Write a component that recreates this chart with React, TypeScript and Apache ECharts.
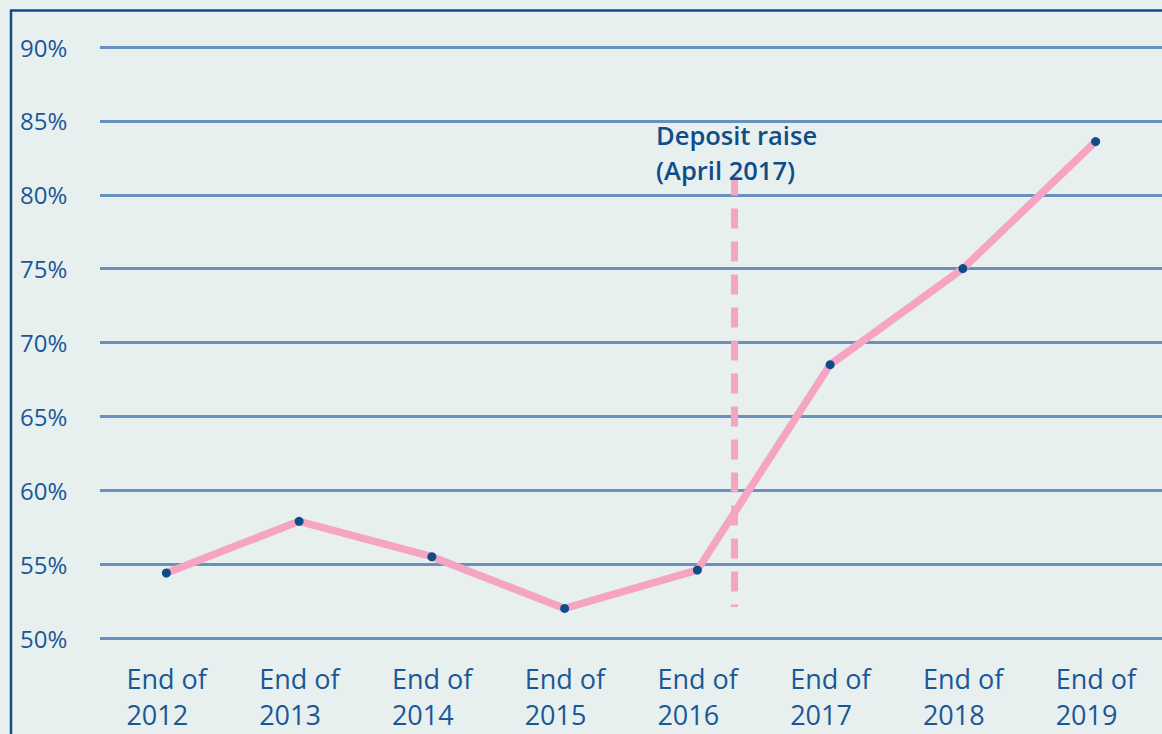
import React, { useEffect, useRef } from "react";
import * as echarts from "echarts";

const categories = ["End of\n2012", "End of\n2013", "End of\n2014", "End of\n2015", "End of\n2016", "End of\n2017", "End of\n2018", "End of\n2019"];
const shareValues = [54.4, 57.9, 55.5, 52.0, 54.6, 68.5, 75.0, 83.6];
const depositRaiseX = [4.28, 4.28];
const depositRaiseY = [81.3, 52.1];
const yTicks = { min: 50, max: 90, interval: 5 };
const annotationText = "Deposit raise\n(April 2017)";

const FONT = "'Open Sans', 'Noto Sans', sans-serif";
const TEXT = "#1b5796";
const NAVY = "#0f4c8a";
const PINK = "#f5a5c2";
const GRID = "#6892bd";
const BG = "#e7f0ef";

export default function App() {
  const ref = useRef<HTMLDivElement>(null);
  useEffect(() => {
    if (!ref.current) return;
    const chart = echarts.init(ref.current, undefined, { renderer: "svg" });
    chart.setOption({
      animation: false,
      backgroundColor: BG,
      grid: { left: 100, right: -2, top: 47, bottom: 96 },
      xAxis: [
        {
          type: "category",
          data: categories,
          boundaryGap: true,
          axisLine: { show: false },
          axisTick: { show: false },
          axisLabel: {
            color: TEXT,
            fontFamily: FONT,
            fontSize: 27,
            lineHeight: 36,
            margin: 22,
            interval: 0,
            formatter: (v: string) =>
              v
                .split("\n")
                .map((s) => `{a|${s}}`)
                .join("\n"),
            rich: {
              a: {
                width: 80,
                align: "left",
                color: TEXT,
                fontFamily: FONT,
                fontSize: 27,
                lineHeight: 36,
              },
            },
          },
        },
        {
          type: "value",
          min: -0.5,
          max: 7.5,
          show: false,
        },
      ],
      yAxis: {
        type: "value",
        min: yTicks.min,
        max: yTicks.max,
        interval: yTicks.interval,
        axisLine: { show: false },
        axisTick: { show: false },
        axisLabel: {
          color: TEXT,
          fontFamily: FONT,
          fontSize: 24,
          align: "left",
          margin: 80,
          formatter: (v: number) => `${v}%`,
        },
        splitLine: { lineStyle: { color: GRID, width: 3 } },
      },
      series: [
        {
          type: "line",
          xAxisIndex: 1,
          data: depositRaiseX.map((x, i) => [x, depositRaiseY[i]]),
          showSymbol: false,
          symbol: "none",
          lineStyle: { color: PINK, width: 7, type: [20, 13] },
          z: 2,
          silent: true,
        },
        {
          type: "line",
          xAxisIndex: 0,
          data: shareValues,
          symbol: "circle",
          symbolSize: 9,
          itemStyle: { color: NAVY },
          lineStyle: { color: PINK, width: 7.5 },
          z: 3,
        },
      ],
      graphic: [
        {
          type: "line",
          shape: { x1: 11, y1: 10, x2: 11, y2: 734 },
          style: { stroke: NAVY, lineWidth: 2.5 },
          z: 10,
        },
        {
          type: "line",
          shape: { x1: 10, y1: 10.5, x2: 1162, y2: 10.5 },
          style: { stroke: NAVY, lineWidth: 2.5 },
          z: 10,
        },
        {
          type: "text",
          left: 656,
          top: 117,
          z: 10,
          style: {
            text: annotationText,
            fill: NAVY,
            font: `600 25.5px ${FONT}`,
            lineHeight: 35,
          },
        },
      ],
    });
    return () => chart.dispose();
  }, []);
  return (
    <div
      ref={ref}
      style={{ position: "fixed", left: 0, top: 0, width: 1162, height: 734 }}
    />
  );
}
